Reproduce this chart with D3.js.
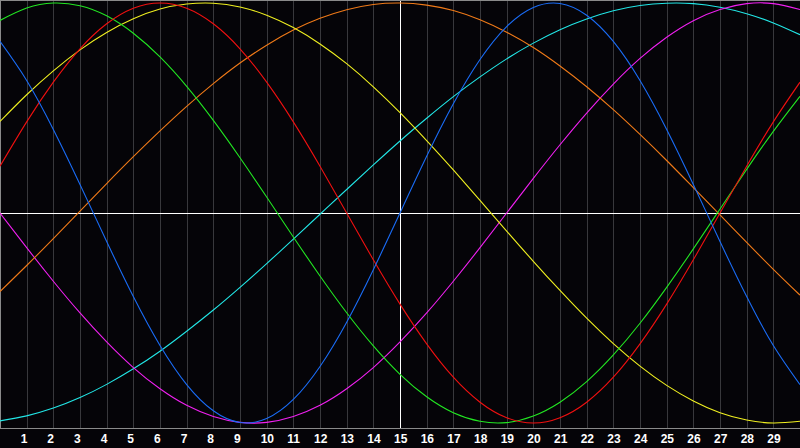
<!DOCTYPE html>
<html>
<head>
<meta charset="utf-8">
<script src="https://cdn.jsdelivr.net/npm/d3@7"></script>
<style>
  html, body { margin: 0; padding: 0; background: #050408; }
  svg { display: block; }
</style>
</head>
<body>
<svg width="800" height="448"></svg>
<script>
// дни по оси X (0..30), подписи только 1..29
const days = d3.range(0, 31);
const tickDays = d3.range(1, 30);

const blueVals = [0.817, 0.631, 0.398, 0.136, -0.136, -0.398, -0.631, -0.817, -0.942, -0.998,
  -0.979, -0.888, -0.731, -0.520, -0.270, 0, 0.270, 0.520, 0.731, 0.888,
  0.979, 0.998, 0.942, 0.817, 0.631, 0.398, 0.136, -0.136, -0.398, -0.631, -0.817];
const redVals = [0.223, 0.434, 0.623, 0.782, 0.901, 0.975, 1.000, 0.975, 0.901, 0.782,
  0.623, 0.434, 0.223, 0, -0.223, -0.434, -0.623, -0.782, -0.901, -0.975,
  -1.000, -0.975, -0.901, -0.782, -0.623, -0.434, -0.223, 0, 0.223, 0.434, 0.623];
const greenVals = [0.917, 0.976, 1.000, 0.987, 0.939, 0.856, 0.743, 0.603, 0.441, 0.263,
  0.076, -0.114, -0.300, -0.475, -0.633, -0.768, -0.875, -0.951, -0.992, -0.998,
  -0.967, -0.901, -0.803, -0.676, -0.525, -0.354, -0.171, 0.019, 0.208, 0.389, 0.556];
const yellowVals = [0.436, 0.563, 0.677, 0.777, 0.860, 0.925, 0.971, 0.995, 0.999, 0.981,
  0.942, 0.883, 0.805, 0.711, 0.601, 0.478, 0.345, 0.205, 0.060, -0.086,
  -0.230, -0.369, -0.501, -0.622, -0.729, -0.821, -0.895, -0.951, -0.986, -1.000, -0.992];
const orangeVals = [-0.374, -0.250, -0.122, 0.009, 0.140, 0.268, 0.391, 0.508, 0.616, 0.714,
  0.799, 0.871, 0.927, 0.968, 0.993, 1.000, 0.990, 0.964, 0.920, 0.861,
  0.788, 0.700, 0.601, 0.492, 0.374, 0.250, 0.121, -0.009, -0.140, -0.268, -0.391];
const cyanVals = [-0.990, -0.966, -0.929, -0.879, -0.816, -0.742, -0.658, -0.563, -0.462, -0.354,
  -0.241, -0.124, -0.006, 0.112, 0.229, 0.343, 0.451, 0.554, 0.648, 0.734,
  0.809, 0.873, 0.924, 0.963, 0.988, 0.999, 0.997, 0.980, 0.949, 0.905, 0.849];
const magentaVals = [0, -0.165, -0.325, -0.476, -0.614, -0.736, -0.837, -0.916, -0.969, -0.997,
  -0.997, -0.969, -0.916, -0.837, -0.736, -0.614, -0.476, -0.325, -0.165, 0,
  0.165, 0.325, 0.476, 0.614, 0.736, 0.837, 0.916, 0.969, 0.997, 0.997, 0.969];

const series = [
  { values: cyanVals, color: "#22e6e6" },
  { values: magentaVals, color: "#f020f0" },
  { values: orangeVals, color: "#f07a18" },
  { values: yellowVals, color: "#f0f020" },
  { values: greenVals, color: "#22e622" },
  { values: redVals, color: "#f01010" },
  { values: blueVals, color: "#1a6cf6" }
];

const svg = d3.select("svg");
const W = 800, plotBottom = 428;

const scX = d3.scaleLinear().domain([0, 30]).range([0, W]);
const scY = d3.scaleLinear().domain([-1, 1]).range([423, 3]);

// фон
svg.append("rect").attr("width", W).attr("height", 448).attr("fill", "#050408");

// вертикальная сетка (день 15 — белая линия)
svg.append("g")
  .selectAll("line")
  .data(tickDays)
  .enter()
  .append("line")
  .attr("x1", d => Math.round(scX(d)) + 0.5)
  .attr("x2", d => Math.round(scX(d)) + 0.5)
  .attr("y1", 0)
  .attr("y2", plotBottom)
  .style("stroke", d => d === 15 ? "#ffffff" : "#38383c")
  .style("stroke-width", 1);

// рамка: слева, сверху и снизу
svg.append("line").attr("x1", 0.5).attr("x2", 0.5).attr("y1", 0).attr("y2", plotBottom)
  .style("stroke", "#8a8a8a");
svg.append("line").attr("x1", 0).attr("x2", W).attr("y1", 0.5).attr("y2", 0.5)
  .style("stroke", "#8a8a8a");
svg.append("line").attr("x1", 0).attr("x2", W).attr("y1", plotBottom + 0.5).attr("y2", plotBottom + 0.5)
  .style("stroke", "#8a8a8a");

// горизонтальная линия нуля
svg.append("line")
  .attr("x1", 0).attr("x2", W)
  .attr("y1", Math.round(scY(0)) + 0.5).attr("y2", Math.round(scY(0)) + 0.5)
  .style("stroke", "#ffffff");

// кривые
const lineGen = d3.line()
  .x((d, i) => scX(days[i]))
  .y(d => scY(d))
  .curve(d3.curveNatural);

series.forEach(s => {
  svg.append("path")
    .datum(s.values)
    .attr("d", lineGen)
    .style("fill", "none")
    .style("stroke", s.color)
    .style("stroke-width", 1.1);
});

// подписи дней
svg.append("g")
  .selectAll("text")
  .data(tickDays)
  .enter()
  .append("text")
  .attr("x", d => scX(d) - 6)
  .attr("y", 443)
  .attr("text-anchor", "start")
  .style("font-family", "'Liberation Sans', Arial, sans-serif")
  .style("font-weight", "bold")
  .style("font-size", "12px")
  .style("fill", "#ffffff")
  .text(d => d);
</script>
</body>
</html>
